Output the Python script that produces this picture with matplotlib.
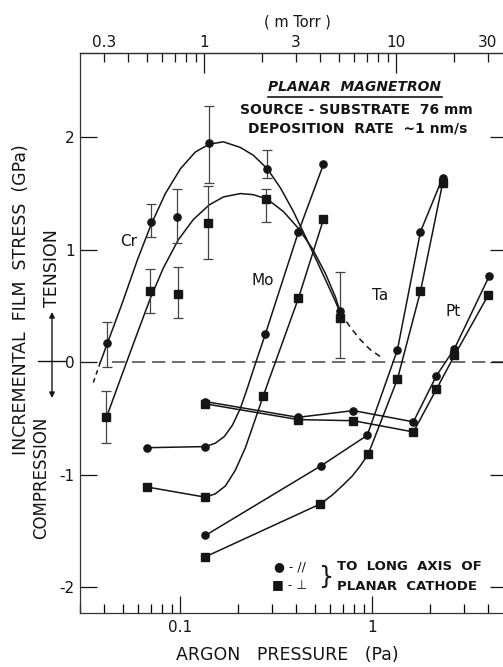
import numpy as np
import matplotlib.pyplot as plt
from matplotlib.ticker import FixedLocator, FuncFormatter, NullFormatter, LogLocator
from matplotlib.lines import Line2D

# argon pressure (Pa) and incremental film stress (GPa)
# Cr with error bars, // and _|_ to the long axis of the cathode
cr_par_p = [0.0417, 0.0706, 0.0965, 0.1416, 0.284, 0.681]
cr_par_s = [0.17, 1.25, 1.29, 1.95, 1.72, 0.46]
cr_par_lo = [0.21, 0.14, 0.23, 0.36, 0.08]
cr_par_hi = [0.19, 0.16, 0.25, 0.33, 0.17]

cr_perp_p = [0.0412, 0.0698, 0.0976, 0.14, 0.28, 0.681]
cr_perp_s = [-0.49, 0.63, 0.61, 1.24, 1.45, 0.39]
cr_perp_lo = [0.23, 0.19, 0.22, 0.32, 0.20, 0.355]
cr_perp_hi = [0.23, 0.20, 0.24, 0.33, 0.09, 0.41]

# hand-drawn fit curves for Cr
cr_fit_par_p = [0.0383, 0.0417, 0.0499, 0.0597, 0.0706, 0.0835, 0.100, 0.1197,
                0.1416, 0.1675, 0.2053, 0.240, 0.2838, 0.332, 0.388, 0.453,
                0.530, 0.619, 0.681]
cr_fit_par_s = [0.0, 0.17, 0.53, 0.91, 1.23, 1.50, 1.72, 1.87, 1.94, 1.96, 1.91,
                1.84, 1.72, 1.55, 1.34, 1.10, 0.85, 0.60, 0.44]
cr_fit_perp_p = [0.0412, 0.0499, 0.0597, 0.0698, 0.0816, 0.0976, 0.1169, 0.1416,
                 0.1675, 0.2053, 0.240, 0.2838, 0.344, 0.412, 0.487, 0.569,
                 0.642, 0.681]
cr_fit_perp_s = [-0.49, -0.10, 0.26, 0.57, 0.84, 1.09, 1.27, 1.40, 1.47, 1.50,
                 1.49, 1.45, 1.34, 1.19, 1.01, 0.79, 0.58, 0.44]
cr_head_p = [0.0352, 0.0383]
cr_head_s = [-0.18, 0.0]
cr_tail_p = [0.681, 0.768, 0.866, 0.977, 1.10]
cr_tail_s = [0.44, 0.31, 0.20, 0.11, 0.05]

# Mo
mo_par_p = [0.0673, 0.135, 0.277, 0.412, 0.556]
mo_par_s = [-0.76, -0.75, 0.25, 1.16, 1.76]
mo_par_line_p = [0.0673, 0.135, 0.152, 0.1695, 0.1866, 0.2053, 0.2233, 0.246,
                 0.277, 0.412, 0.556]
mo_par_line_s = [-0.76, -0.75, -0.72, -0.66, -0.56, -0.41, -0.23, -0.01,
                 0.25, 1.16, 1.76]
mo_perp_p = [0.0673, 0.135, 0.27, 0.412, 0.556]
mo_perp_s = [-1.11, -1.20, -0.30, 0.57, 1.27]
mo_perp_line_p = [0.0673, 0.135, 0.152, 0.1716, 0.1933, 0.218, 0.2428, 0.27,
                  0.412, 0.556]
mo_perp_line_s = [-1.11, -1.20, -1.17, -1.10, -0.96, -0.76, -0.53, -0.30,
                  0.57, 1.27]

# Ta
ta_par_p = [0.135, 0.541, 0.94, 1.35, 1.78, 2.32]
ta_par_s = [-1.54, -0.92, -0.65, 0.11, 1.16, 1.64]
ta_perp_p = [0.135, 0.536, 0.95, 1.35, 1.78, 2.32]
ta_perp_s = [-1.73, -1.26, -0.82, -0.15, 0.63, 1.59]
ta_perp_line_p = [0.135, 0.536, 0.619, 0.706, 0.787, 0.866, 0.95, 1.35, 1.78, 2.32]
ta_perp_line_s = [-1.73, -1.26, -1.18, -1.09, -1.01, -0.92, -0.82, -0.15, 0.63, 1.59]

# Pt
pt_par_p = [0.135, 0.41, 0.796, 1.635, 2.155, 2.675, 4.07]
pt_par_s = [-0.35, -0.49, -0.43, -0.53, -0.12, 0.12, 0.77]
pt_perp_p = [0.135, 0.41, 0.796, 1.635, 2.155, 2.675, 4.02]
pt_perp_s = [-0.37, -0.51, -0.52, -0.62, -0.24, 0.06, 0.60]

# metal labels (pressure, stress)
metals = ['Cr', 'Mo', 'Ta', 'Pt']
metal_lab_p = [0.0536, 0.27, 1.10, 2.64]
metal_lab_s = [1.07, 0.73, 0.59, 0.45]

y_ticks = [-2, -1, 0, 1, 2]
mtorr_major = [1, 10]
mtorr_minor = [0.3, 0.4, 0.5, 0.6, 0.7, 0.8, 0.9, 2, 3, 4, 5, 6, 7, 8, 9, 20, 30]
mtorr_labeled = [0.3, 3, 30]
PA_PER_MTORR = 0.13332

W, H = 503, 667
def fx(x):
    return x / W
def fy(y):
    return 1 - y / H

plt.rcParams['font.family'] = 'DejaVu Sans'
ink = '#151515'

fig = plt.figure(figsize=(W / 100, H / 100), dpi=100)
ax = fig.add_axes([fx(80), fy(613), 426.6 / W, 560 / H])
ax.set_xscale('log')
ax.set_xlim(0.03, 5)
ax.set_ylim(-2.23, 2.75)

lw = 1.1
ms = 5.2
# zero line
ax.axhline(0, xmin=0.075, color='#555555', lw=1.2, dashes=(8, 4), zorder=1)

# Cr
ax.plot(cr_fit_par_p, cr_fit_par_s, color=ink, lw=lw)
ax.plot(cr_fit_perp_p, cr_fit_perp_s, color=ink, lw=lw)
ax.plot(cr_head_p, cr_head_s, color=ink, lw=lw, dashes=(3, 2.5))
ax.plot(cr_tail_p, cr_tail_s, color=ink, lw=lw, dashes=(4, 3))
ax.errorbar(cr_par_p[:5], cr_par_s[:5], yerr=[cr_par_lo, cr_par_hi], fmt='none',
            ecolor='#444444', elinewidth=0.9, capsize=3.3, capthick=0.9)
ax.errorbar(cr_perp_p, cr_perp_s, yerr=[cr_perp_lo, cr_perp_hi], fmt='none',
            ecolor='#444444', elinewidth=0.9, capsize=3.3, capthick=0.9)
ax.plot(cr_par_p, cr_par_s, 'o', color=ink, ms=ms)
ax.plot(cr_perp_p, cr_perp_s, 's', color=ink, ms=ms)

# Mo
ax.plot(mo_par_line_p, mo_par_line_s, color=ink, lw=lw)
ax.plot(mo_par_p, mo_par_s, 'o', color=ink, ms=ms)
ax.plot(mo_perp_line_p, mo_perp_line_s, color=ink, lw=lw)
ax.plot(mo_perp_p, mo_perp_s, 's', color=ink, ms=ms)

# Ta
ax.plot(ta_par_p, ta_par_s, 'o-', color=ink, lw=lw, ms=ms)
ax.plot(ta_perp_line_p, ta_perp_line_s, color=ink, lw=lw)
ax.plot(ta_perp_p, ta_perp_s, 's', color=ink, ms=ms)

# Pt
ax.plot(pt_par_p, pt_par_s, 'o-', color=ink, lw=lw, ms=ms)
ax.plot(pt_perp_p, pt_perp_s, 's-', color=ink, lw=lw, ms=ms)

for name, p, s in zip(metals, metal_lab_p, metal_lab_s):
    ax.text(p, s, name, ha='center', va='center', fontsize=11, color=ink)

# axes styling
for side in ['left', 'bottom', 'top']:
    ax.spines[side].set_color('#333333')
    ax.spines[side].set_linewidth(0.9)
ax.spines['right'].set_visible(False)

ax.set_yticks(y_ticks)
ax.yaxis.set_major_formatter(FuncFormatter(lambda v, _: f'{int(v)}'))
ax.tick_params(axis='y', which='major', direction='in', length=12.5, width=0.9,
               right=True, labelsize=11, pad=4, colors=ink)

ax.xaxis.set_major_locator(FixedLocator([0.1, 1]))
ax.xaxis.set_major_formatter(FuncFormatter(lambda v, _: '0.1' if v < 0.5 else '1'))
ax.xaxis.set_minor_locator(LogLocator(base=10, subs=np.arange(2, 10)))
ax.xaxis.set_minor_formatter(NullFormatter())
ax.tick_params(axis='x', which='major', direction='in', length=12, width=0.9,
               labelsize=11, pad=5, colors=ink)
ax.tick_params(axis='x', which='minor', direction='in', length=6.5, width=0.9)

sec = ax.secondary_xaxis('top', functions=(lambda p: p / PA_PER_MTORR,
                                           lambda t: t * PA_PER_MTORR))
sec.set_xticks(mtorr_major, ['1', '10'])
sec.xaxis.set_minor_locator(FixedLocator(mtorr_minor))
sec.xaxis.set_minor_formatter(FuncFormatter(
    lambda v, _: (f'{v:g}' if any(abs(v - m) < 1e-6 for m in mtorr_labeled) else '')))
sec.tick_params(which='major', direction='in', length=14.5, width=0.9, labelsize=11,
                pad=2, colors=ink)
sec.tick_params(which='minor', direction='in', length=6.5, width=0.9, labelsize=11,
                pad=2, colors=ink)
sec.spines['top'].set_color('#333333')
sec.spines['top'].set_linewidth(0.9)

# outer labels
fig.text(fx(297), fy(22), '( m Torr )', ha='center', va='center', fontsize=10.5, color=ink)
fig.text(fx(287), fy(655), 'ARGON   PRESSURE   (Pa)', ha='center', va='center',
         fontsize=12.5, color=ink)
fig.text(fx(21), fy(300), 'INCREMENTAL  FILM  STRESS  (GPa)', rotation=90,
         ha='center', va='center', fontsize=12.5, color=ink)
fig.text(fx(52), fy(268), 'TENSION', rotation=90, ha='center', va='center',
         fontsize=12.5, color=ink)
fig.text(fx(41), fy(478), 'COMPRESSION', rotation=90, ha='center', va='center',
         fontsize=12, color=ink)
fig.add_artist(Line2D([fx(38), fx(66)], [fy(361), fy(361)], color=ink, lw=1))
ax.annotate('', xy=(fx(52), fy(312)), xytext=(fx(52), fy(398)),
            xycoords='figure fraction', textcoords='figure fraction',
            arrowprops=dict(arrowstyle='<|-|>', lw=1, color=ink, mutation_scale=8,
                            shrinkA=0, shrinkB=0))

# header block
fig.text(fx(355), fy(87), 'PLANAR  MAGNETRON', ha='center', va='center',
         fontsize=10, fontweight='bold', fontstyle='italic', color=ink)
fig.add_artist(Line2D([fx(268), fx(442)], [fy(97), fy(97)], color=ink, lw=1.2))
fig.text(fx(356), fy(110), 'SOURCE - SUBSTRATE  76 mm', ha='center', va='center',
         fontsize=10, fontweight='bold', color=ink)
fig.text(fx(358), fy(128), 'DEPOSITION  RATE  ~1 nm/s', ha='center', va='center',
         fontsize=10, fontweight='bold', color=ink)

# key
fig.text(fx(290), fy(567), '\u25cf - //', ha='center', va='center', fontsize=9,
         color=ink)
fig.text(fx(290), fy(586), '\u25a0 - \u22a5', ha='center', va='center', fontsize=9,
         color=ink)
fig.text(fx(327), fy(577), '}', ha='center', va='center', fontsize=17, color=ink)
fig.text(fx(337), fy(567), 'TO  LONG  AXIS  OF', ha='left', va='center',
         fontsize=9.5, fontweight='bold', color=ink)
fig.text(fx(337), fy(586), 'PLANAR  CATHODE', ha='left', va='center',
         fontsize=9.5, fontweight='bold', color=ink)

fig.savefig('out.png', dpi=100)
